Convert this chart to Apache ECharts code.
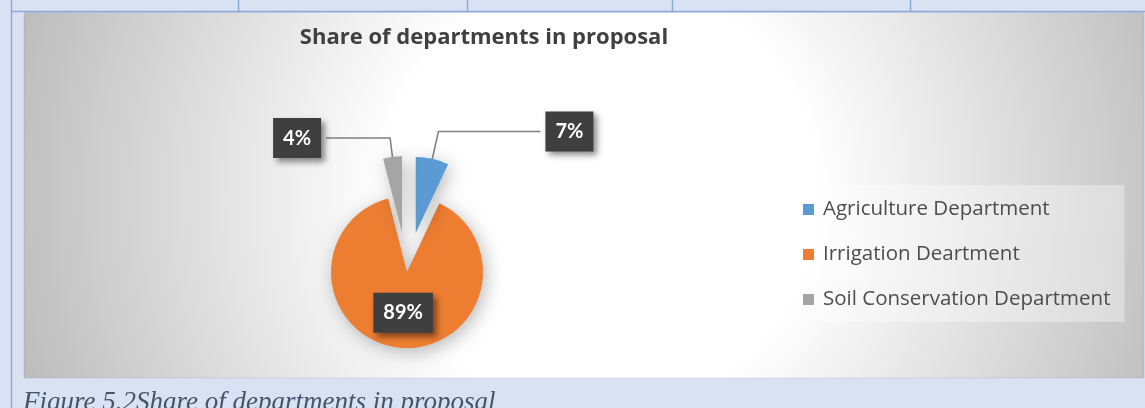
<!DOCTYPE html>
<html>
<head>
<meta charset="utf-8">
<script src="https://cdn.jsdelivr.net/npm/echarts@6/dist/echarts.min.js"></script>
<style>
html, body { margin: 0; padding: 0; background: #d9e2f3; }
#box1 { width: 1145px; height: 408px; }
</style>
</head>
<body>
<div id="box1"></div>
<script>
var departments = ['Agriculture Department', 'Irrigation Deartment', 'Soil Conservation Department'];
var shares = [7, 89, 4];
var exploded = [true, false, true];
var sliceColors = ['#5b9bd5', '#ed7d31', '#a5a5a5'];
var labelSetup = [
    { position: 'outside', length: 28, length2: 102 },
    { position: 'inside' },
    { position: 'outside', length: 19, length2: 64 }
];

var dom = document.getElementById('box1');
var myChart = echarts.init(dom, null, { renderer: 'canvas' });

var pieData = [];
for (var i = 0; i < shares.length; i++) {
    pieData.push({
        name: departments[i],
        value: shares[i],
        selected: exploded[i],
        itemStyle: { color: sliceColors[i] },
        label: { position: labelSetup[i].position },
        labelLine: {
            show: labelSetup[i].position === 'outside',
            length: labelSetup[i].length,
            length2: labelSetup[i].length2
        }
    });
}

var tableLine = { stroke: '#8eaadb', lineWidth: 1.5 };

option = {
    backgroundColor: '#d9e2f3',
    animation: false,
    graphic: [
        // chart area with soft radial fill
        {
            type: 'rect',
            shape: { x: 24, y: 12.5, width: 1120, height: 365.5 },
            style: {
                fill: new echarts.graphic.RadialGradient(600, 195, 600, [
                    { offset: 0, color: '#ffffff' },
                    { offset: 0.36, color: '#ffffff' },
                    { offset: 1, color: '#bdbdbd' }
                ], true),
                stroke: 'rgba(0,0,0,0.08)',
                lineWidth: 1
            }
        },
        // table borders of the page
        { type: 'line', shape: { x1: 11.5, y1: 0, x2: 11.5, y2: 408 }, style: tableLine },
        { type: 'line', shape: { x1: 11, y1: 11.5, x2: 1145, y2: 11.5 }, style: tableLine },
        { type: 'line', shape: { x1: 238.5, y1: 0, x2: 238.5, y2: 11 }, style: tableLine },
        { type: 'line', shape: { x1: 467.5, y1: 0, x2: 467.5, y2: 11 }, style: tableLine },
        { type: 'line', shape: { x1: 672.5, y1: 0, x2: 672.5, y2: 11 }, style: tableLine },
        { type: 'line', shape: { x1: 910.5, y1: 0, x2: 910.5, y2: 11 }, style: tableLine },
        // figure caption
        {
            type: 'text',
            x: 23,
            y: 389,
            style: {
                text: 'Figure 5.2Share of departments in proposal',
                font: 'italic 27px "Liberation Serif", serif',
                fill: '#44546a',
                verticalAlign: 'top'
            }
        }
    ],
    title: {
        text: 'Share of departments in proposal',
        left: 484,
        top: 27,
        padding: 0,
        textAlign: 'center',
        textStyle: {
            fontFamily: 'Open Sans',
            fontSize: 22,
            fontWeight: 'bold',
            color: '#404040'
        }
    },
    legend: {
        orient: 'vertical',
        left: 791,
        top: 185,
        padding: [14, 14, 12, 12],
        backgroundColor: 'rgba(255,255,255,0.35)',
        icon: 'rect',
        itemWidth: 11,
        itemHeight: 11,
        itemGap: 24,
        data: departments,
        selectedMode: false,
        textStyle: {
            fontFamily: 'Open Sans',
            fontSize: 20.5,
            lineHeight: 21,
            color: '#4d4d4d',
            padding: [0, 0, 0, 4]
        }
    },
    series: [{
        type: 'pie',
        center: [407, 272],
        radius: [0, 76],
        startAngle: 90,
        clockwise: true,
        selectedMode: 'multiple',
        selectedOffset: 40,
        avoidLabelOverlap: false,
        silent: true,
        emphasis: { scale: false },
        select: { itemStyle: { borderWidth: 0 } },
        itemStyle: {
            borderWidth: 0,
            shadowBlur: 18,
            shadowColor: 'rgba(0,0,0,0.28)',
            shadowOffsetX: 3,
            shadowOffsetY: 4
        },
        label: {
            show: true,
            formatter: function (p) { return p.value + '%'; },
            fontFamily: 'Lato',
            fontSize: 20,
            fontWeight: 'bold',
            lineHeight: 24,
            color: '#ffffff',
            backgroundColor: '#3f3f3f',
            padding: [8, 10],
            shadowColor: 'rgba(0,0,0,0.45)',
            shadowBlur: 6,
            shadowOffsetX: 4,
            shadowOffsetY: 4
        },
        labelLine: {
            lineStyle: { color: '#7f7f7f', width: 1.5 }
        },
        data: pieData
    }]
};

if (option && typeof option === 'object') {
    myChart.setOption(option, true);
}
</script>
</body>
</html>
